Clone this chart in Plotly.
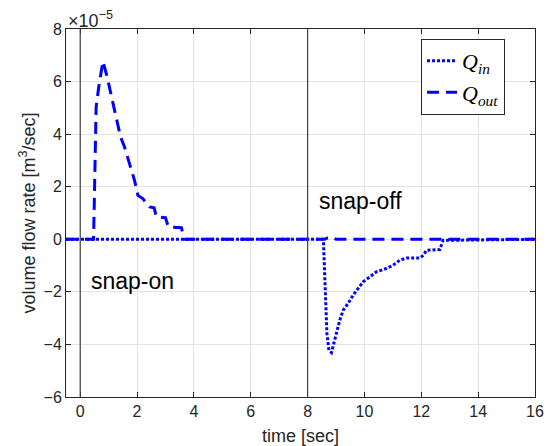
import plotly.graph_objects as go

# time [sec] and flow (in units of 1e-5 m^3/sec)
t_in = [-0.5, 8.54, 8.56, 8.64, 8.68, 8.75, 8.84, 9.01, 9.13, 9.25, 9.42, 9.6, 9.77, 9.95,
        10.19, 10.42, 10.77, 11.0, 11.24, 11.48, 11.95, 12.07, 12.18, 12.65, 12.77, 16]
q_in = [0, 0, -0.16, -2.32, -3.59, -4.22, -4.31, -3.59, -3.08, -2.70, -2.45, -2.13, -1.87, -1.62,
        -1.43, -1.24, -1.11, -0.99, -0.80, -0.71, -0.71, -0.61, -0.42, -0.39, -0.04, 0]

t_out = [-0.5, 0.47, 0.56, 0.66, 0.80, 0.95, 1.09, 1.27, 1.42, 1.56, 1.74, 1.91, 2.03, 2.2,
         2.44, 2.6, 2.68, 3.0, 3.1, 3.56, 3.67, 8.6, 8.7, 8.95, 9.0, 16]
q_out = [0, 0, 5.03, 5.86, 6.77, 6.17, 5.48, 4.65, 3.89, 3.51, 2.88, 2.24, 1.67, 1.55,
         1.23, 1.2, 0.85, 0.82, 0.47, 0.44, 0, 0, 0.05, 0.05, 0, 0]

event_times = [0, 8]
event_labels = ["snap-on", "snap-off"]
label_pos = [(1.85, -1.6), (9.85, 1.45)]

x_ticks = list(range(0, 17, 2))
y_ticks = list(range(-6, 9, 2))

BLUE = "rgb(0,0,255)"
FONT = "Liberation Sans, Arial"
DARK = "#262626"

fig = go.Figure()
fig.add_trace(go.Scatter(x=t_in, y=q_in, mode="lines",
                         name="<i>Q</i><sub><i>in</i></sub>",
                         line=dict(color=BLUE, width=3, dash="3px,2px")))
fig.add_trace(go.Scatter(x=t_out, y=q_out, mode="lines",
                         name="<i>Q</i><sub><i>out</i></sub>",
                         line=dict(color=BLUE, width=3, dash="12px,7px")))

for tv in event_times:
    fig.add_shape(type="line", x0=tv, x1=tv, xref="x", y0=0, y1=1, yref="paper",
                  line=dict(color="#404040", width=1.2))

for txt, (px, py) in zip(event_labels, label_pos):
    fig.add_annotation(x=px, y=py, text=txt, showarrow=False,
                       font=dict(size=23, color="black", family=FONT))

fig.add_annotation(x=0, y=1, xref="paper", yref="paper", xanchor="left", yanchor="bottom",
                   text="×10<sup>−5</sup>", showarrow=False, yshift=-4,
                   font=dict(size=18, color=DARK, family=FONT))

axis_common = dict(showgrid=True, gridcolor="#e3e3e3", gridwidth=1, zeroline=False,
                   showline=True, linecolor=DARK, linewidth=1, mirror="ticks",
                   ticks="inside", ticklen=5, tickcolor=DARK, automargin=False,
                   tickfont=dict(size=16, color=DARK, family=FONT))

fig.update_xaxes(range=[-0.5, 16], tickvals=x_ticks,
                 title=dict(text="time [sec]", font=dict(size=18, color=DARK, family=FONT),
                            standoff=11),
                 **axis_common)
fig.update_yaxes(range=[-6, 8], tickvals=y_ticks,
                 title=dict(text="volume flow rate [m<sup>3</sup>/sec]",
                            font=dict(size=18, color=DARK, family=FONT), standoff=3),
                 **axis_common)

fig.update_layout(
    width=556, height=446,
    margin=dict(l=66, r=21, t=29, b=49),
    paper_bgcolor="white", plot_bgcolor="white",
    showlegend=True,
    legend=dict(x=0.757, y=0.973, xanchor="left", yanchor="top",
                bgcolor="white", bordercolor=DARK, borderwidth=1,
                font=dict(size=22, color="black", family="Liberation Serif, DejaVu Serif"),
                itemwidth=30, tracegroupgap=0),
)

fig.write_html("out.html", config={"displayModeBar": False},
               post_script="document.body.style.margin='0';")
